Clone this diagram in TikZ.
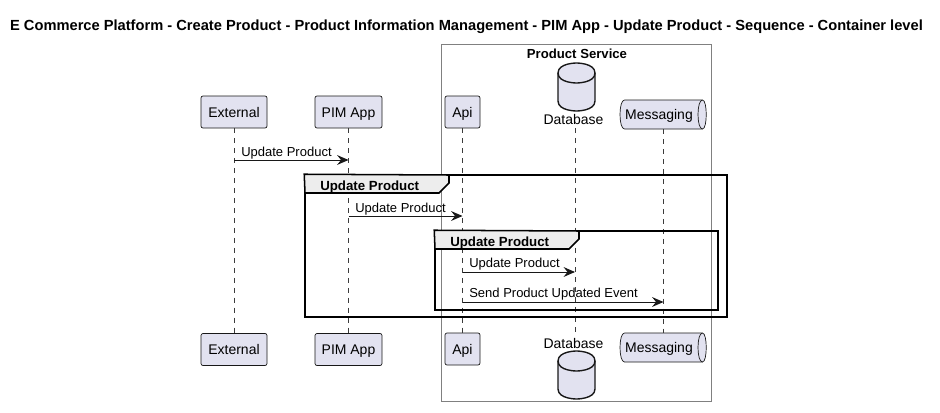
\documentclass[tikz,border=0pt]{standalone}
\usepackage{fontspec}
\setmainfont{Liberation Sans}
\usepackage{tikz}
\usetikzlibrary{arrows.meta}
\definecolor{partfill}{HTML}{E2E2F0}
\definecolor{partline}{HTML}{181818}
\tikzset{>={Stealth[width=2.5mm,length=2.9mm,inset=1mm]}}
\tikzset{
part/.style={shape=rectangle,rounded corners=0.02in,draw=partline,line width=0.5pt,fill=partfill,minimum height=0.32in,inner sep=0pt,text height=0.10in,text depth=0in,font=\fontsize{10.1pt}{12pt}\selectfont},
queue/.style={shape=rectangle,minimum height=0.29in,minimum width=0.88in,inner sep=0pt,text height=0.10in,text depth=0in,font=\fontsize{10.1pt}{12pt}\selectfont},
plain/.style={inner sep=0pt,font=\fontsize{10.1pt}{12pt}\selectfont},
lifeline/.style={draw=partline!85,line width=0.45pt,dash pattern=on 3.6pt off 3.6pt},
msg/.style={draw=partline,line width=0.7pt,->},
msgtext/.style={inner sep=0pt,anchor=base west,font=\fontsize{9.4pt}{11pt}\selectfont},
groupframe/.style={shape=rectangle,draw=black,line width=1.1pt,inner sep=0pt},
grouptab/.style={draw=black,line width=1.1pt,fill=black!7},
grouptext/.style={inner sep=0pt,anchor=base west,font=\bfseries\fontsize{9.6pt}{11pt}\selectfont},
dbshape/.pic={
\draw[draw=partline,line width=1pt,fill=partfill] (-0.185in,0.14in) .. controls (-0.185in,0.24in) and (0in,0.24in) .. (0in,0.24in) .. controls (0in,0.24in) and (0.185in,0.24in) .. (0.185in,0.14in) -- (0.185in,-0.14in) .. controls (0.185in,-0.24in) and (0in,-0.24in) .. (0in,-0.24in) .. controls (0in,-0.24in) and (-0.185in,-0.24in) .. (-0.185in,-0.14in) -- cycle;
\draw[draw=partline,line width=1pt] (-0.185in,0.14in) .. controls (-0.185in,0.04in) and (0in,0.04in) .. (0in,0.04in) .. controls (0in,0.04in) and (0.185in,0.04in) .. (0.185in,0.14in);
},
queueshape/.pic={
\draw[draw=partline,line width=0.5pt,fill=partfill] (-0.39in,0.145in) -- (0.39in,0.145in) .. controls (0.44in,0.145in) and (0.44in,-0.145in) .. (0.39in,-0.145in) -- (-0.39in,-0.145in) .. controls (-0.45in,-0.145in) and (-0.45in,0.145in) .. (-0.39in,0.145in) -- cycle;
\draw[draw=partline,line width=0.5pt] (0.39in,0.145in) .. controls (0.33in,0.145in) and (0.33in,-0.145in) .. (0.39in,-0.145in);
}
}
\begin{document}
\begin{tikzpicture}

\useasboundingbox (0in,0in) rectangle (9.40in,-4.13in);

\draw[draw=black!50,line width=0.6pt] (4.415in,-0.44in) rectangle (7.115in,-4.01in);

\path (5.77in,-0.58in) node [anchor=base,inner sep=0pt,font=\bfseries\fontsize{9.5pt}{11pt}\selectfont] (servicetitle) {Product Service};

\path (4.665in,-0.30in) node [anchor=base,inner sep=0pt,font=\bfseries\fontsize{10.6pt}{12pt}\selectfont] (pagetitle) {E Commerce Platform - Create Product - Product Information Management - PIM App - Update Product - Sequence - Container level};

% lifelines go under the boxes
\path (2.34in,-1.12in) node [part,minimum width=0.66in] (externaltop) {External};
\path (3.485in,-1.12in) node [part,minimum width=0.67in] (pimtop) {PIM App};
\path (4.625in,-1.12in) node [part,minimum width=0.35in] (apitop) {Api};
\path (5.765in,-0.87in) pic {dbshape};
\path (5.735in,-1.245in) node [plain,anchor=base] (dbtoptext) {Database};
\path (6.635in,-1.145in) pic {queueshape} node [queue] (queuetop) {\hspace{-0.09in}Messaging};

\path (2.34in,-3.495in) node [part,minimum width=0.66in] (externalbot) {External};
\path (3.485in,-3.495in) node [part,minimum width=0.67in] (pimbot) {PIM App};
\path (4.625in,-3.49in) node [part,minimum width=0.35in] (apibot) {Api};
\path (5.765in,-3.75in) pic {dbshape};
\path (5.735in,-3.48in) node [plain,anchor=base] (dbbottext) {Database};
\path (6.635in,-3.475in) pic {queueshape} node [queue] (queuebot) {\hspace{-0.09in}Messaging};

\coordinate (dbtopend) at (5.75in,-1.28in);
\coordinate (dbbotend) at (5.75in,-3.33in);

\draw[lifeline] (externaltop) -- (externalbot);
\draw[lifeline] (pimtop) -- (pimbot);
\draw[lifeline] (apitop) -- (apibot);
\draw[lifeline] (dbtopend) -- (dbbotend);
\draw[lifeline] (queuetop) -- (queuebot);

\path (5.16in,-2.46in) node (outerframe) [groupframe,minimum width=4.22in,minimum height=1.42in] {};
\path (5.765in,-2.705in) node (innerframe) [groupframe,minimum width=2.83in,minimum height=0.79in] {};

\draw[grouptab] (outerframe.north west) -- (4.49in,-1.75in) -- (4.49in,-1.83in) -- (4.39in,-1.93in) -- (3.05in,-1.93in) -- cycle;
\path (3.20in,-1.90in) node [grouptext] (outertab) {Update Product};

\draw[grouptab] (innerframe.north west) -- (5.79in,-2.31in) -- (5.79in,-2.39in) -- (5.69in,-2.49in) -- (4.35in,-2.49in) -- cycle;
\path (4.50in,-2.46in) node [grouptext] (innertab) {Update Product};

\coordinate (msgaa) at (externaltop |- 0,-1.60in);
\coordinate (msgab) at (pimtop |- 0,-1.60in);
\coordinate (msgba) at (pimtop |- 0,-2.16in);
\coordinate (msgbb) at (apitop |- 0,-2.16in);
\coordinate (msgca) at (apitop |- 0,-2.72in);
\coordinate (msgcb) at (dbtopend |- 0,-2.72in);
\coordinate (msgda) at (apitop |- 0,-3.02in);
\coordinate (msgdb) at (queuetop |- 0,-3.02in);

\draw[msg] (msgaa) -- (msgab);
\draw[msg] (msgba) -- (msgbb);
\draw[msg] (msgca) -- (msgcb);
\draw[msg] (msgda) -- (msgdb);

\path (2.41in,-1.56in) node [msgtext] {Update Product};
\path (3.55in,-2.12in) node [msgtext] {Update Product};
\path (4.69in,-2.67in) node [msgtext] {Update Product};
\path (4.69in,-2.97in) node [msgtext] {Send Product Updated Event};

\end{tikzpicture}
\end{document}
